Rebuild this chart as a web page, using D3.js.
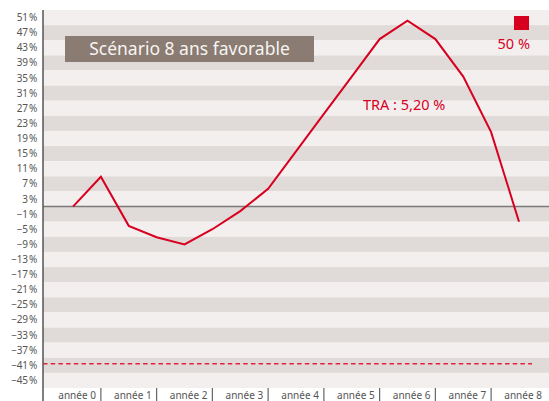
<!DOCTYPE html>
<html>
<head>
<meta charset="utf-8">
<script src="https://cdn.jsdelivr.net/npm/d3@7"></script>
<style>
  body { margin: 0; background: #fff; }
  svg { display: block; font-family: "Noto Sans", sans-serif; }
</style>
</head>
<body>
<div id="chart"></div>
<script>
// half-year steps, value in %
const times = [0, 0.5, 1, 1.5, 2, 2.5, 3, 3.5, 4, 4.5, 5, 5.5, 6, 6.5, 7, 7.5, 8];
const values = [0, 7.9, -5.1, -8.1, -10.0, -6.0, -1.2, 4.7, 14.6, 24.5, 34.4, 44.3, 49.2, 44.3, 34.4, 19.7, -4.0];
const yearLabels = ["année 0", "année 1", "année 2", "année 3", "année 4", "année 5", "année 6", "année 7", "année 8"];
const yTickLabels = [51, 47, 43, 39, 35, 31, 27, 23, 19, 15, 11, 7, 3, -1, -5, -9, -13, -17, -21, -25, -29, -33, -37, -41, -45];
const floorLevel = -41.6;
const titleText = "Scénario 8 ans favorable";
const traText = "TRA : 5,20 %";
const legendText = "50 %";

const width = 549, height = 401;
const red = "#d7001f";

const svg = d3.select('#chart')
  .append('svg')
  .attr('width', width)
  .attr('height', height);

const plotLeft = 43, plotTop = 10, plotBottom = 388;

const x = d3.scaleLinear().domain([0, 8]).range([73, 519]);
const y = d3.scaleLinear().domain([52, -48]).range([plotTop, plotBottom]);

// background stripes, one per 4 %
const bands = d3.range(52, -48, -4);
svg.append('g')
  .selectAll('rect')
  .data(bands)
  .join('rect')
  .attr('x', plotLeft)
  .attr('y', d => y(d))
  .attr('width', width - plotLeft)
  .attr('height', d => y(d - 4) - y(d))
  .attr('fill', (d, i) => i % 2 === 0 ? "#f3efee" : "#e0dbd8");

// y tick labels (label sits in the middle of its band)
svg.append('g')
  .selectAll('text')
  .data(yTickLabels)
  .join('text')
  .attr('x', 37)
  .attr('y', d => y(d - 1))
  .attr('dy', '0.35em')
  .attr('text-anchor', 'end')
  .attr('font-size', 10)
  .attr('letter-spacing', -0.3)
  .attr('fill', '#555')
  .text(d => (d < 0 ? "\u2212" + Math.abs(d) : d) + "\u2009%");

// zero line
svg.append('line')
  .attr('x1', plotLeft).attr('x2', width)
  .attr('y1', y(0)).attr('y2', y(0))
  .attr('stroke', '#7a7a7a')
  .attr('stroke-width', 1.5);

// protection floor
svg.append('line')
  .attr('x1', plotLeft).attr('x2', 532)
  .attr('y1', y(floorLevel)).attr('y2', y(floorLevel))
  .attr('stroke', '#e2223f')
  .attr('stroke-width', 1.6)
  .attr('stroke-dasharray', '4.5,3.2');

// left axis
svg.append('line')
  .attr('x1', plotLeft).attr('x2', plotLeft)
  .attr('y1', plotTop).attr('y2', height)
  .attr('stroke', '#555')
  .attr('stroke-width', 1.5);

// x ticks between years
svg.append('g')
  .selectAll('line')
  .data(d3.range(0, 8))
  .join('line')
  .attr('x1', d => x(d + 0.5)).attr('x2', d => x(d + 0.5))
  .attr('y1', plotBottom).attr('y2', height)
  .attr('stroke', '#666')
  .attr('stroke-width', 1.2);

svg.append('g')
  .selectAll('text')
  .data(yearLabels)
  .join('text')
  .attr('x', (d, i) => x(i + 0.5) - 5)
  .attr('y', 395)
  .attr('dy', '0.35em')
  .attr('text-anchor', 'end')
  .attr('font-size', 10)
  .attr('fill', '#555')
  .text(d => d);

// title box
svg.append('rect')
  .attr('x', 65).attr('y', 36)
  .attr('width', 249).attr('height', 26)
  .attr('fill', '#8a7b73');
svg.append('text')
  .attr('x', 189.5).attr('y', 49)
  .attr('dy', '0.35em')
  .attr('text-anchor', 'middle')
  .attr('font-size', 17.5)
  .attr('fill', '#f7f4f0')
  .text(titleText);

// performance line
const line = d3.line()
  .x((d, i) => x(times[i]))
  .y(d => y(d));

svg.append('path')
  .datum(values)
  .attr('d', line)
  .attr('fill', 'none')
  .attr('stroke', red)
  .attr('stroke-width', 2)
  .attr('stroke-linejoin', 'miter');

svg.append('text')
  .attr('x', 363).attr('y', 105)
  .attr('dy', '0.35em')
  .attr('font-size', 14.5)
  .attr('fill', red)
  .text(traText);

// legend
svg.append('rect')
  .attr('x', 514).attr('y', 16)
  .attr('width', 15).attr('height', 14)
  .attr('fill', red);
svg.append('text')
  .attr('x', 530).attr('y', 44)
  .attr('dy', '0.35em')
  .attr('text-anchor', 'end')
  .attr('font-size', 14.5)
  .attr('fill', red)
  .text(legendText);
</script>
</body>
</html>
